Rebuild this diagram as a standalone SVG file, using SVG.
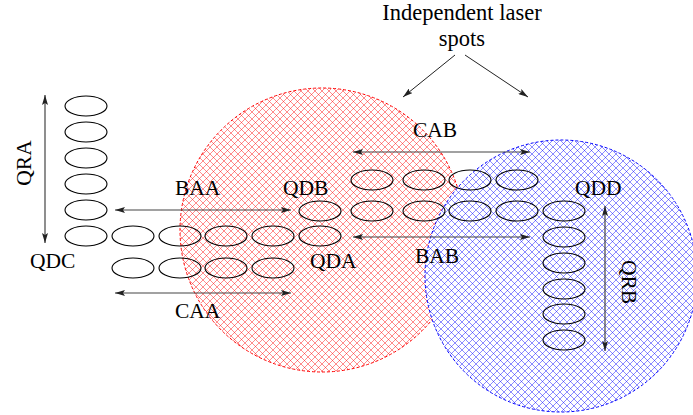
<svg xmlns="http://www.w3.org/2000/svg" width="693" height="415" viewBox="0 0 693 415">
<style>
text{font-family:"Liberation Serif","Times New Roman",serif;font-size:21.5px;fill:#000}
.sp{fill:none;stroke:#000;stroke-width:1.1}
.ar{stroke:#444;stroke-width:1.2;fill:none;marker-start:url(#ah);marker-end:url(#ah)}
.a1{stroke:#222;stroke-width:1;fill:none;marker-end:url(#ah)}
</style>
<defs>
<pattern id="hr" width="7" height="7" patternUnits="userSpaceOnUse">
<path d="M-1,-1 L8,8 M-1,8 L8,-1" stroke="#ff0000" stroke-opacity="0.45" stroke-width="1"/>
</pattern>
<pattern id="hb" width="7" height="7" patternUnits="userSpaceOnUse">
<path d="M-1,-1 L8,8 M-1,8 L8,-1" stroke="#0000ff" stroke-opacity="0.45" stroke-width="1"/>
</pattern>
<marker id="ah" viewBox="0 0 10 6" refX="10" refY="3" markerWidth="10" markerHeight="6" markerUnits="userSpaceOnUse" orient="auto-start-reverse">
<path d="M0,0 L10,3 L0,6 L2,3 Z" fill="#222"/>
</marker>
</defs>
<g id="spot-red">
<circle cx="322" cy="230" r="142" fill="#fff"/>
<circle cx="322" cy="230" r="142" fill="url(#hr)" stroke="#ff0000" stroke-width="1" stroke-dasharray="3 2"/>
</g>
<g id="spot-blue">
<circle cx="561" cy="276" r="136" fill="#fff"/>
<circle cx="561" cy="276" r="136" fill="url(#hb)" stroke="#0000ff" stroke-width="1" stroke-dasharray="3 2"/>
</g>
<g id="column-QRA">
<ellipse class="sp" cx="86" cy="106" rx="21" ry="10"/>
<ellipse class="sp" cx="86" cy="132" rx="21" ry="10"/>
<ellipse class="sp" cx="86" cy="158" rx="21" ry="10"/>
<ellipse class="sp" cx="86" cy="184" rx="21" ry="10"/>
<ellipse class="sp" cx="86" cy="210" rx="21" ry="10"/>
</g>
<g id="row-BAA">
<ellipse class="sp" cx="86" cy="236" rx="21" ry="10"/>
<ellipse class="sp" cx="133" cy="236" rx="21" ry="10"/>
<ellipse class="sp" cx="180" cy="236" rx="21" ry="10"/>
<ellipse class="sp" cx="226" cy="236" rx="21" ry="10"/>
<ellipse class="sp" cx="273" cy="236" rx="21" ry="10"/>
<ellipse class="sp" cx="320" cy="236" rx="21" ry="10"/>
</g>
<g id="row-CAA">
<ellipse class="sp" cx="133" cy="268" rx="21" ry="10"/>
<ellipse class="sp" cx="180" cy="268" rx="21" ry="10"/>
<ellipse class="sp" cx="226" cy="268" rx="21" ry="10"/>
<ellipse class="sp" cx="273" cy="268" rx="21" ry="10"/>
</g>
<g id="row-BAB">
<ellipse class="sp" cx="320" cy="211" rx="21" ry="10"/>
<ellipse class="sp" cx="372" cy="211" rx="21" ry="10"/>
<ellipse class="sp" cx="424" cy="211" rx="21" ry="10"/>
<ellipse class="sp" cx="470" cy="211" rx="21" ry="10"/>
<ellipse class="sp" cx="517" cy="211" rx="21" ry="10"/>
</g>
<g id="row-CAB">
<ellipse class="sp" cx="372" cy="180" rx="21" ry="10"/>
<ellipse class="sp" cx="424" cy="180" rx="21" ry="10"/>
<ellipse class="sp" cx="470" cy="180" rx="21" ry="10"/>
<ellipse class="sp" cx="517" cy="180" rx="21" ry="10"/>
</g>
<g id="column-QRB">
<ellipse class="sp" cx="564" cy="211" rx="21" ry="10"/>
<ellipse class="sp" cx="564" cy="237" rx="21" ry="10"/>
<ellipse class="sp" cx="564" cy="263" rx="21" ry="10"/>
<ellipse class="sp" cx="564" cy="289" rx="21" ry="10"/>
<ellipse class="sp" cx="564" cy="314" rx="21" ry="10"/>
<ellipse class="sp" cx="564" cy="340" rx="21" ry="10"/>
</g>
<g id="connectors">
<line class="ar" x1="45" y1="95" x2="45" y2="243"/>
<line class="ar" x1="115" y1="210" x2="291" y2="210"/>
<line class="ar" x1="115" y1="293" x2="291" y2="293"/>
<line class="ar" x1="353" y1="152" x2="530" y2="152"/>
<line class="ar" x1="353" y1="237" x2="530" y2="237"/>
<line class="ar" x1="605" y1="206" x2="605" y2="351"/>
<line class="a1" x1="455" y1="55" x2="403" y2="97"/>
<line class="a1" x1="465" y1="55" x2="528" y2="97"/>
</g>
<g id="labels">
<text x="462" y="20" text-anchor="middle" style="font-size:22.5px">Independent laser</text>
<text x="462" y="46" text-anchor="middle" style="font-size:22.5px">spots</text>
<text transform="translate(31,163) rotate(-90)" text-anchor="middle">QRA</text>
<text x="175" y="195">BAA</text>
<text x="283" y="195">QDB</text>
<text x="30" y="268">QDC</text>
<text x="310" y="268">QDA</text>
<text x="175" y="318">CAA</text>
<text x="413" y="137">CAB</text>
<text x="415" y="263">BAB</text>
<text x="575" y="195">QDD</text>
<text transform="translate(622,282) rotate(90)" text-anchor="middle">QRB</text>
</g>
</svg>
